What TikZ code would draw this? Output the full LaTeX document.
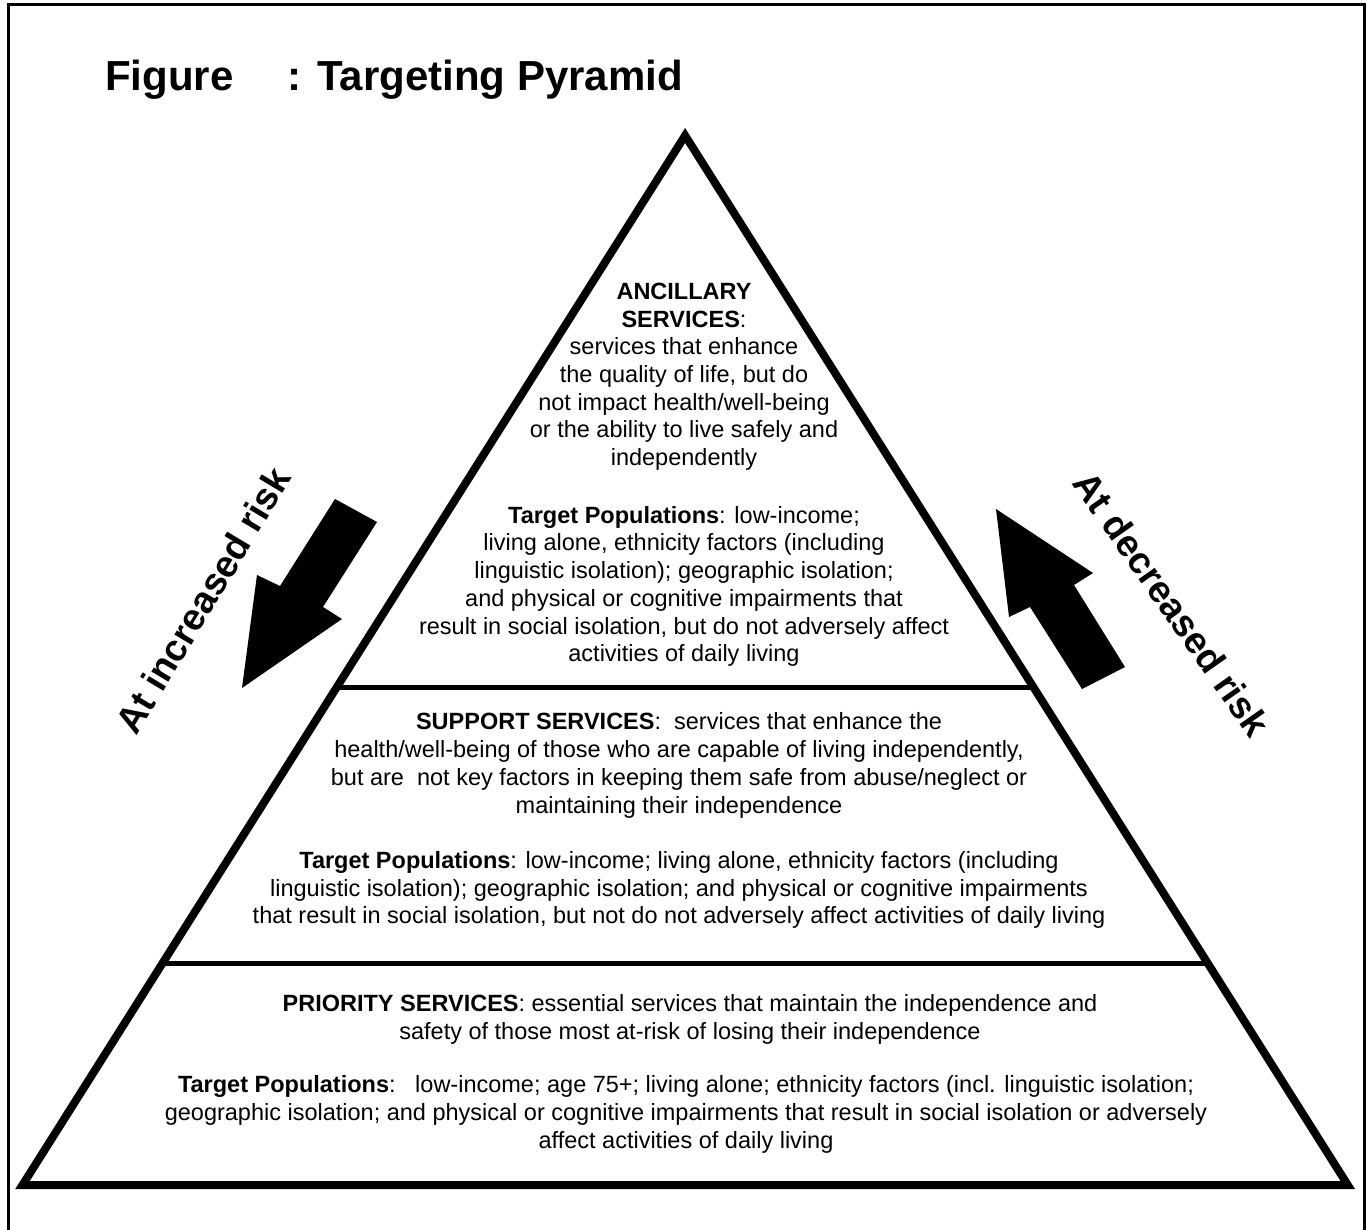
\documentclass[tikz,border=0pt]{standalone}
\usepackage{fontspec}
\setmainfont{Liberation Sans}
\usetikzlibrary{calc}
\tikzset{
  body/.style={font=\fontsize{23.5}{27.7}\selectfont, align=center, inner sep=0pt},
  ttl/.style={font=\fontsize{42}{48}\selectfont\bfseries, inner sep=0pt},
  risk/.style={font=\fontsize{37.5}{44}\selectfont\bfseries, inner sep=0pt},
  pyr/.style={line width=8pt, line join=miter},
  divider/.style={line width=5pt},
  frameline/.style={line width=3pt},
  bigarrow/.style={fill=black, draw=none}
}
\begin{document}
\begin{tikzpicture}[x=1pt, y=-1pt]
\useasboundingbox (0,0) rectangle (1367,1230);
% frame (open at the bottom)
\coordinate (f1) at (8,1230);
\coordinate (f2) at (8,5);
\coordinate (f3) at (1364.5,5);
\coordinate (f4) at (1364.5,1230);
\draw[frameline] (f1) -- (f2) -- (f3) -- (f4);
% title
\node[ttl, anchor=base west] (fig) at (105,91) {Figure};
\node[ttl, anchor=base east] (tname) at (683,91) {: Targeting Pyramid};
% pyramid
\coordinate (A) at (685.1,135.5);
\coordinate (BL) at (22.5,1185);
\coordinate (BR) at (1347.75,1185);
\draw[pyr] (A) -- (BR) -- (BL) -- cycle;
\coordinate (d1l) at ($(A)!0.5255!(BL)$);
\coordinate (d1r) at ($(A)!0.5255!(BR)$);
\coordinate (d2l) at ($(A)!0.7885!(BL)$);
\coordinate (d2r) at ($(A)!0.7885!(BR)$);
\draw[divider] (d1l) -- (d1r);
\draw[divider] (d2l) -- (d2r);
% arrows
\fill[bigarrow] (335,499) -- (377,522) -- (323,607) -- (342,619) -- (242,688) -- (257,575) -- (280,586) -- cycle;
\fill[bigarrow] (996,509) -- (1093,573) -- (1074,585) -- (1125,667) -- (1082,689) -- (1030,607) -- (1009,617) -- cycle;
\node[risk, rotate=59] (inc) at (203,600) {At increased risk};
\node[risk, rotate=-55] (dec) at (1172,604) {At decreased risk};
% texts
\node[body] (anc) at (684,377) {\strut\textbf{ANCILLARY}\\
\strut\textbf{SERVICES}:\\
\strut services that enhance\\
\strut the quality of life, but do\\
\strut not impact health/well-being\\
\strut or the ability to live safely and\\
\strut independently};
\node[body] (anct) at (684,587) {\strut\textbf{Target Populations}: low-income;\\
\strut living alone, ethnicity factors (including\\
\strut linguistic isolation); geographic isolation;\\
\strut and physical or cognitive impairments that\\
\strut result in social isolation, but do not adversely affect\\
\strut activities of daily living};
\node[body] (sup) at (679,766) {\strut\textbf{SUPPORT SERVICES}:\ \ services that enhance the\\
\strut health/well-being of those who are capable of living independently,\\
\strut but are\ \ not key factors in keeping them safe from abuse/neglect or\\
\strut maintaining their independence};
\node[body] (supt) at (679,890.5) {\strut\textbf{Target Populations}: low-income; living alone, ethnicity factors (including\\
\strut linguistic isolation); geographic isolation; and physical or cognitive impairments\\
\strut that result in social isolation, but not do not adversely affect activities of daily living};
\node[body] (pri) at (690,1020) {\strut\textbf{PRIORITY SERVICES}: essential services that maintain the independence and\\
\strut safety of those most at-risk of losing their independence};
\node[body] (prit) at (686,1115) {\strut\textbf{Target Populations}:\ \ \ low-income; age 75+; living alone; ethnicity factors (incl. linguistic isolation;\\
\strut geographic isolation; and physical or cognitive impairments that result in social isolation or adversely\\
\strut affect activities of daily living};
\end{tikzpicture}
\end{document}
